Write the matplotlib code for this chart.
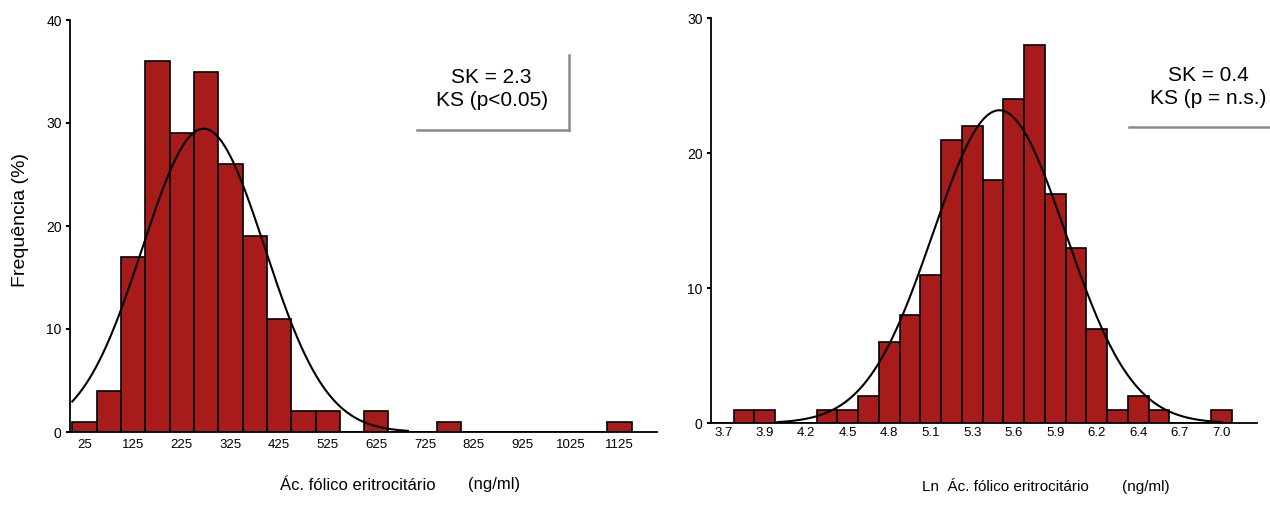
import numpy as np
import matplotlib
matplotlib.use("Agg")
import matplotlib.pyplot as plt
from matplotlib.lines import Line2D

plt.rcParams["font.family"] = ["Liberation Sans", "DejaVu Sans"]

# ---- Data -----------------------------------------------------------------
# Erythrocyte folic acid (ng/ml): bins of width 50 centred at 25, 75, ..., 1125
raw_bin_centers = list(range(25, 1126, 50))
raw_counts = [1, 4, 17, 36, 29, 35, 26, 19, 11, 2, 2, 0, 2, 0, 0, 1,
              0, 0, 0, 0, 0, 0, 1]
raw_tick_labels = ["25", "125", "225", "325", "425", "525", "625", "725",
                   "825", "925", "1025", "1125"]
raw_mean, raw_sd = 270.0, 126.0

# Ln of erythrocyte folic acid: 25 bins of width 0.1375 starting at 3.7
ln_first_center = 3.7
ln_bin_width = 0.1375
ln_counts = [0, 1, 1, 0, 0, 1, 1, 2, 6, 8, 11, 21, 22, 18, 24, 28, 17, 13,
             7, 1, 2, 1, 0, 0, 1]
ln_tick_labels = ["3.7", "3.9", "4.2", "4.5", "4.8", "5.1", "5.3", "5.6",
                  "5.9", "6.2", "6.4", "6.7", "7.0"]
ln_mean, ln_sd = 5.529, 0.44

left_stats = "SK = 2.3\nKS (p<0.05)"
right_stats = "SK = 0.4\nKS (p = n.s.)"

BAR_COLOR = "#A81B1B"

# ---- Figure ---------------------------------------------------------------
W, H = 1270, 505
fig = plt.figure(figsize=(W / 100, H / 100), dpi=100)


def rect(l, r, b, t):
    return [l / W, 1 - b / H, (r - l) / W, (b - t) / H]


def style(ax, pad_x):
    for s in ("top", "right"):
        ax.spines[s].set_visible(False)
    ax.spines["left"].set_linewidth(1.3)
    ax.spines["bottom"].set_linewidth(1.3)
    ax.tick_params(axis="x", length=0, pad=pad_x, labelsize=9.5)
    ax.tick_params(axis="y", length=3, width=1.5, pad=3, labelsize=10)


def normal_curve(ax, mean, sd, total, width, x0, x1):
    x = np.linspace(x0, x1, 400)
    y = total * width / (sd * np.sqrt(2 * np.pi)) * np.exp(-0.5 * ((x - mean) / sd) ** 2)
    ax.plot(x, y, color="black", lw=1.5, zorder=3)


# Left panel: raw values
ax1 = fig.add_axes(rect(70, 657, 432, 20))
ax1.bar(raw_bin_centers, raw_counts, width=50, color=BAR_COLOR,
        edgecolor="black", linewidth=1.2, zorder=2)
normal_curve(ax1, raw_mean, raw_sd, sum(raw_counts), 50, 0, 690)
ax1.set_xlim(-4.7, 1202)
ax1.set_ylim(0, 40)
ax1.set_yticks([0, 10, 20, 30, 40])
ax1.set_xticks(raw_bin_centers[::2])
ax1.set_xticklabels(raw_tick_labels)
style(ax1, 5)

# Right panel: log-transformed values
ln_centers = [ln_first_center + ln_bin_width * k for k in range(len(ln_counts))]
ax2 = fig.add_axes(rect(711, 1257, 423.3, 18.3))
ax2.bar(ln_centers, ln_counts, width=ln_bin_width, color=BAR_COLOR,
        edgecolor="black", linewidth=1.2, zorder=2)
normal_curve(ax2, ln_mean, ln_sd, sum(ln_counts), ln_bin_width,
             ln_first_center + 2.6 * ln_bin_width, ln_centers[-1])
ax2.set_xlim(3.618, 7.237)
ax2.set_ylim(0, 30)
ax2.set_yticks([0, 10, 20, 30])
ax2.set_xticks(ln_centers[::2])
ax2.set_xticklabels(ln_tick_labels)
style(ax2, 3)

# Axis titles
fig.text(20.7 / W, 1 - 220 / H, "Frequência (%)", rotation=90,
         ha="center", va="center", fontsize=14)
fig.text(280 / W, 1 - 485 / H, "Ác. fólico eritrocitário", ha="left",
         va="center", fontsize=12)
fig.text(468 / W, 1 - 485 / H, "(ng/ml)", ha="left", va="center", fontsize=12)
fig.text(921.7 / W, 1 - 487 / H, "Ln  Ác. fólico eritrocitário", ha="left",
         va="center", fontsize=11)
fig.text(1121.7 / W, 1 - 487 / H, "(ng/ml)", ha="left", va="center", fontsize=11)

# Statistics boxes
fig.text(491.7 / W, 1 - 89 / H, left_stats, ha="center", va="center",
         fontsize=15, linespacing=1.3)
fig.text(1208 / W, 1 - 87 / H, right_stats, ha="center", va="center",
         fontsize=15, linespacing=1.3)

gray = "#8a8a8a"
fig.add_artist(Line2D([569.3 / W, 569.3 / W], [1 - 55 / H, 1 - 130 / H],
                      color=gray, lw=1.8))
fig.add_artist(Line2D([416.7 / W, 569.3 / W], [1 - 130 / H, 1 - 130 / H],
                      color=gray, lw=1.8))
fig.add_artist(Line2D([1129.3 / W, 1.0], [1 - 126.7 / H, 1 - 126.7 / H],
                      color=gray, lw=1.8))

fig.savefig("out.png", dpi=100)
